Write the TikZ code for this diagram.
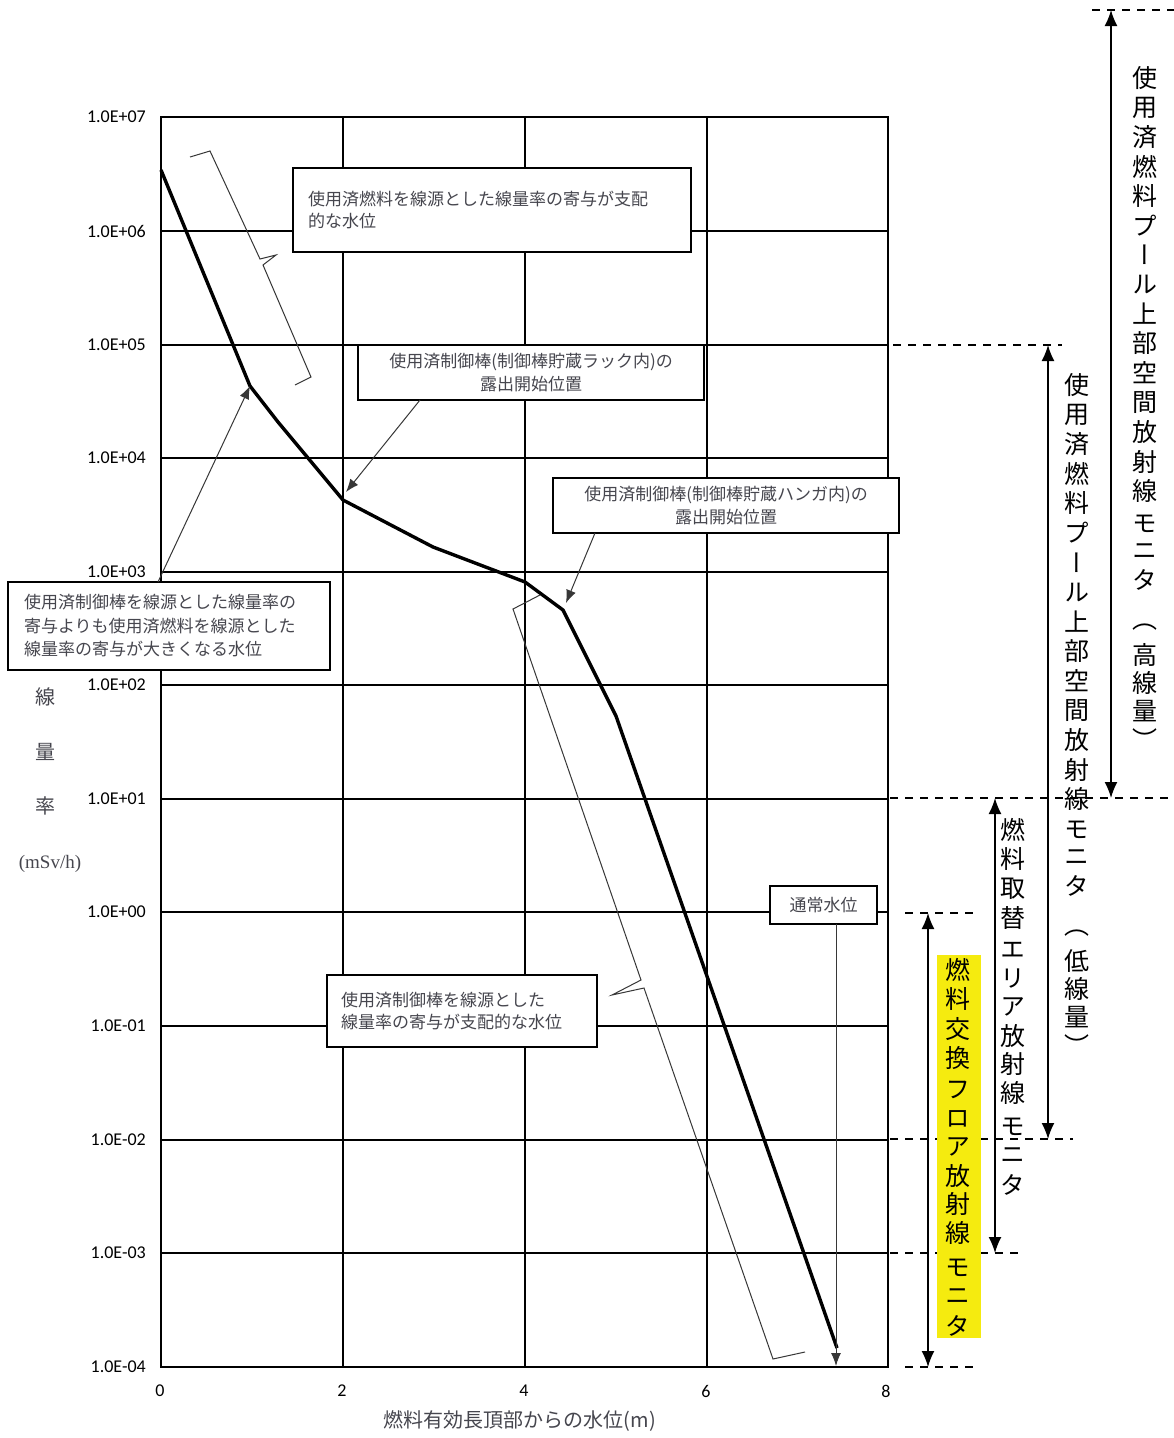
\documentclass[tikz,border=0pt]{standalone}
\usepackage{fontspec}
\usetikzlibrary{arrows.meta}
\newfontfamily\jp{Noto Sans CJK JP}
\newfontfamily\jpv{Noto Sans CJK JP}[RawFeature=+vert]
\newfontfamily\tk{Carlito}
\newfontfamily\sr{Liberation Serif}
\definecolor{txtgray}{RGB}{70,70,78}
\definecolor{hl}{RGB}{245,235,15}
\definecolor{thinc}{RGB}{55,55,55}
\begin{document}
\begin{tikzpicture}[x=1pt,y=-1pt,
  grid/.style={line width=2pt,black},
  curve/.style={line width=3.4pt,black,line join=miter},
  thinl/.style={line width=1pt,thinc},
  leader/.style={line width=1pt,thinc,-{Latex[length=13pt,width=10pt]}},
  rng/.style={line width=1.6pt,black,{Latex[length=16pt,width=13pt]}-{Latex[length=16pt,width=13pt]}},
  dsh/.style={line width=1.4pt,black,dash pattern=on 8pt off 7pt},
  box/.style={draw,line width=1.5pt,fill=white,inner sep=0pt,font=\jp\fontsize{17}{22.5}\selectfont,text=txtgray},
  ytick/.style={anchor=east,font=\tk\fontsize{18}{18}\selectfont,inner sep=0pt},
  xtick/.style={font=\tk\fontsize{18}{18}\selectfont,inner sep=0pt},
  vch/.style={font=\jpv\fontsize{25}{25}\selectfont,inner sep=0pt},
  ylab/.style={font=\jp\fontsize{20}{20}\selectfont,text=txtgray,inner sep=0pt},
]
\useasboundingbox (0,0) rectangle (1174,1438);
\fill[white] (0,0) rectangle (1174,1438);

% grid
\foreach \yy in {231,345,458,572,685,799,912,1026,1140,1253} \draw[grid] (161,\yy) -- (888,\yy);
\foreach \xx in {343,525,707} \draw[grid] (\xx,117) -- (\xx,1367);
\draw[grid] (161,117) rectangle (888,1367);

% y tick labels
\foreach \lab/\yy [count=\k from 0] in {1.0E+07/117,1.0E+06/231,1.0E+05/345,1.0E+04/458,1.0E+03/572,1.0E+02/685,1.0E+01/799,1.0E+00/912,1.0E-01/1026,1.0E-02/1140,1.0E-03/1253,1.0E-04/1367}
  \node[ytick] (yt\k) at (146,\yy) {\lab};
% x tick labels
\foreach \lab/\xx [count=\k from 0] in {0/160,2/342,4/524,6/706,8/886}
  \node[xtick] (xt\k) at (\xx,1391) {\lab};

% axis titles
\node[ylab] (yl1) at (45,697) {線};
\node[ylab] (yl2) at (45,752) {量};
\node[ylab] (yl3) at (45,806) {率};
\node[font=\sr\fontsize{19}{19}\selectfont,text=txtgray,inner sep=0pt] (yl4) at (50,864) {(mSv/h)};
\node[font=\jp\fontsize{20}{20}\selectfont,text=txtgray,inner sep=0pt] (xl) at (520,1421) {燃料有効長頂部からの水位(m)};

% curve
\coordinate (c0) at (161,170);
\coordinate (c1) at (250,386);
\coordinate (c2) at (278,422);
\coordinate (c3) at (343,500);
\coordinate (c4) at (433,547);
\coordinate (c5) at (525,582);
\coordinate (c6) at (563,610);
\coordinate (c7) at (616,716);
\coordinate (c8) at (837,1348);
\draw[curve] (c0) -- (c1) -- (c2) -- (c3) -- (c4) -- (c5) -- (c6) -- (c7) -- (c8);

% brackets
\draw[thinl] (190,157) -- (210,151) -- (260,259) -- (276,255) -- (263,265) -- (311,377) -- (295,385);
\draw[thinl] (540,595) -- (513,609) -- (641,980) -- (612,995) -- (644,988) -- (773,1359) -- (805,1352);

% boxes
\node[box,minimum width=398,minimum height=84,text width=368,align=left] (bA) at (492,210) {使用済燃料を線源とした線量率の寄与が支配\\的な水位};
\node[box,minimum width=346,minimum height=55,align=center] (bB) at (531,372.5) {使用済制御棒(制御棒貯蔵ラック内)の\\露出開始位置};
\node[box,minimum width=346,minimum height=55,align=center] (bC) at (726,505.5) {使用済制御棒(制御棒貯蔵ハンガ内)の\\露出開始位置};
\node[box,minimum width=322,minimum height=88,text width=290,align=left,font=\jp\fontsize{17}{23.5}\selectfont] (bD) at (169,626) {使用済制御棒を線源とした線量率の\\寄与よりも使用済燃料を線源とした\\線量率の寄与が大きくなる水位};
\node[box,minimum width=270,minimum height=72,text width=242,align=left] (bE) at (462,1011) {使用済制御棒を線源とした\\線量率の寄与が支配的な水位};
\node[box,minimum width=107,minimum height=38] (bF) at (823.5,905) {通常水位};

% leaders
\coordinate (sD) at (158,582);
\coordinate (sB) at (420,400);
\coordinate (sC) at (595,533);
\coordinate (sF) at (836,924);
\coordinate (eF) at (836,1366);
\coordinate (tB) at (346,492);
\coordinate (tC) at (566,603);
\draw[leader] (sD) -- (c1);
\draw[leader] (sB) -- (tB);
\draw[leader] (sC) -- (tC);
\draw[leader] (sF) -- (eF);

% dashed level lines
\draw[dsh] (1092,10) -- (1174,10);
\draw[dsh] (890,798) -- (1174,798);
\draw[dsh] (893,345) -- (1062,345);
\draw[dsh] (890,1139) -- (1073,1139);
\draw[dsh] (890,1253) -- (1020,1253);
\draw[dsh] (905,913) -- (978,913);
\draw[dsh] (905,1367) -- (978,1367);

% range arrows
\coordinate (r1a) at (1111,10);  \coordinate (r1b) at (1111,798);
\coordinate (r2a) at (1048,345); \coordinate (r2b) at (1048,1139);
\coordinate (r3a) at (995,798);  \coordinate (r3b) at (995,1253);
\coordinate (r4a) at (928,913);  \coordinate (r4b) at (928,1367);
\draw[rng] (r1a) -- (r1b);
\draw[rng] (r2a) -- (r2b);
\draw[rng] (r3a) -- (r3b);
\draw[rng] (r4a) -- (r4b);

% highlight
\fill[hl] (937,955) rectangle (981,1338);

% vertical texts
\foreach \c [count=\i from 0] in {使,用,済,燃,料,プ,ー,ル,上,部,空,間,放,射,線}
  \node[vch] (a\i) at (1145,78+\i*29.5) {\c};
\foreach \c [count=\i from 0] in {モ,ニ,タ}
  \node[vch] (am\i) at (1145,524+\i*28) {\c};
\foreach \c [count=\i from 0] in {（,高,線,量,）}
  \node[vch] (ap\i) at (1145,627+\i*28) {\c};

\foreach \c [count=\i from 0] in {使,用,済,燃,料,プ,ー,ル,上,部,空,間,放,射,線}
  \node[vch] (b\i) at (1077,385+\i*29.6) {\c};
\foreach \c [count=\i from 0] in {モ,ニ,タ}
  \node[vch] (bm\i) at (1077,830+\i*28) {\c};
\foreach \c [count=\i from 0] in {（,低,線,量,）}
  \node[vch] (bp\i) at (1077,933+\i*28) {\c};

\foreach \c [count=\i from 0] in {燃,料,取,替}
  \node[vch] (c\i) at (1013,830+\i*29.3) {\c};
\foreach \c [count=\i from 0] in {エ,リ,ア,放,射,線}
  \node[vch] (ce\i) at (1013,950+\i*28.6) {\c};
\foreach \c [count=\i from 0] in {モ,ニ,タ}
  \node[vch] (cm\i) at (1013,1127+\i*29) {\c};

\foreach \c [count=\i from 0] in {燃,料,交,換}
  \node[vch] (d\i) at (958,970+\i*29.3) {\c};
\foreach \c [count=\i from 0] in {フ,ロ,ア,放,射,線}
  \node[vch] (df\i) at (958,1090+\i*28.6) {\c};
\foreach \c [count=\i from 0] in {モ,ニ,タ}
  \node[vch] (dm\i) at (958,1268+\i*29) {\c};
\end{tikzpicture}
\end{document}
